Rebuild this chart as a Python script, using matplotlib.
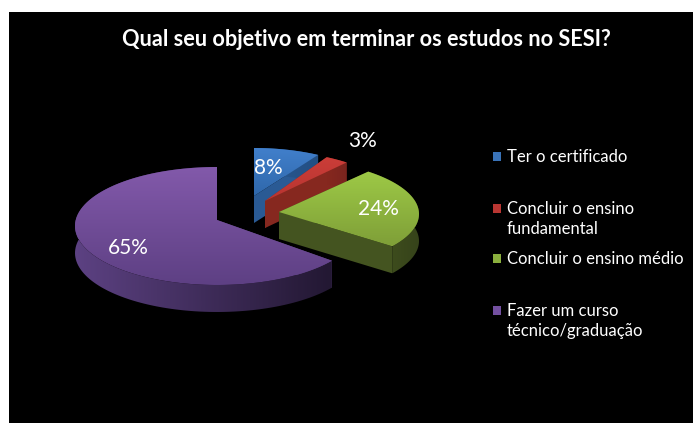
import numpy as np
import matplotlib
matplotlib.use('Agg')
import matplotlib.pyplot as plt
from matplotlib.colors import LinearSegmentedColormap
from matplotlib.patches import Polygon, Rectangle

titulo = 'Qual seu objetivo em terminar os estudos no SESI?'
categorias = ['Ter o certificado', 'Concluir o ensino\nfundamental',
              'Concluir o ensino médio', 'Fazer um curso\ntécnico/graduação']
valores = [8, 3, 24, 65]

# cor do topo (claro, escuro) e da lateral (claro, escuro)
topo_cores = [('#417fcb', '#2f68ab'), ('#cb3d38', '#b83531'), ('#9dc946', '#7f9f38'), ('#8259aa', '#5e4084')]
lado_cores = [('#2a5a94', '#234f83'), ('#86281f', '#7a241e'), ('#445420', '#36431a'), ('#5c4182', '#231833')]
legenda_cores = ['#3a73b8', '#b93632', '#8aaf3d', '#7350a0']

# apice de cada fatia e elipse dela (perspectiva), em pixels da imagem
apices = [(254, 196), (265, 201), (279, 212), (217, 220)]
raios_x = [133, 128, 140, 142]
raios_y = [56, 50, 55, 59]
desvio_y = [8, 0, 2, 6]
label_pos = [(268, 168), (363, 141), (378, 209), (128, 248)]
legenda_y = [157, 209, 259, 311]

ALTURA = 27
FONTE = 'Lato'

fig = plt.figure(figsize=(6.93, 4.23), dpi=100, facecolor='white')
ax = fig.add_axes([9 / 693, 0, 684 / 693, 411 / 423], facecolor='black')
ax.set_xlim(9, 693)
ax.set_ylim(423, 12)
ax.axis('off')
ax.add_patch(Rectangle((9, 12), 684, 411, facecolor='black', edgecolor='none', zorder=0))


def gradiente(pts, c1, c2, vertical, z):
    # pinta um degrade recortado pelo poligono
    pts = np.array(pts)
    x0, x1 = pts[:, 0].min(), pts[:, 0].max()
    y0, y1 = pts[:, 1].min(), pts[:, 1].max()
    cmap = LinearSegmentedColormap.from_list('g', [c1, c2])
    g = np.linspace(0, 1, 64)
    g = g[:, None] if vertical else g[None, :]
    im = ax.imshow(g, cmap=cmap, extent=(x0, x1, y1, y0), aspect='auto', zorder=z, interpolation='bilinear')
    clip = Polygon(pts, closed=True, transform=ax.transData, facecolor='none', edgecolor='none')
    ax.add_patch(clip)
    im.set_clip_path(clip)


def fatia(apice, rx, ry, dy, a0, a1, topo, lado, z):
    cx, cy = apice
    t = np.radians(np.linspace(a0, a1, 120))
    arco = np.column_stack([cx + rx * np.sin(t), cy + dy - ry * np.cos(t)])
    baixo = arco + [0, ALTURA]
    centro = np.array([cx, cy])
    for p in (arco[0], arco[-1]):
        ax.add_patch(Polygon([centro, p, p + [0, ALTURA], centro + [0, ALTURA]], closed=True,
                             facecolor=lado[0], edgecolor='none', zorder=z))
    gradiente(np.vstack([arco, baixo[::-1]]), lado[0], lado[1], False, z + 0.1)
    gradiente(np.vstack([centro, arco]), topo[0], topo[1], True, z + 0.2)


# fatias a partir das 12 horas, sentido horario
angulos = np.cumsum([0] + valores) / sum(valores) * 360
ordem = [3, 0, 1, 2]
for n, i in enumerate(ordem):
    fatia(apices[i], raios_x[i], raios_y[i], desvio_y[i], angulos[i], angulos[i + 1],
          topo_cores[i], lado_cores[i], 2 + n)

for v, (x, y) in zip(valores, label_pos):
    ax.text(x, y, f'{v}%', color='white', fontsize=15, family=FONTE, ha='center', va='center', zorder=10)

ax.text(366, 40, titulo, color='white', fontsize=15.6, family=FONTE, fontweight='bold',
        ha='center', va='center', zorder=10)

for cat, y, cor in zip(categorias, legenda_y, legenda_cores):
    ax.add_patch(Rectangle((493, y - 5), 8, 9, facecolor=cor, edgecolor='none', zorder=10))
    ax.text(507, y - 8, cat, color='white', fontsize=12, family=FONTE, ha='left', va='top',
            linespacing=1.3, zorder=10)

ax.set_xlim(9, 693)
ax.set_ylim(423, 12)
fig.savefig('out.png', dpi=100, facecolor='white')
